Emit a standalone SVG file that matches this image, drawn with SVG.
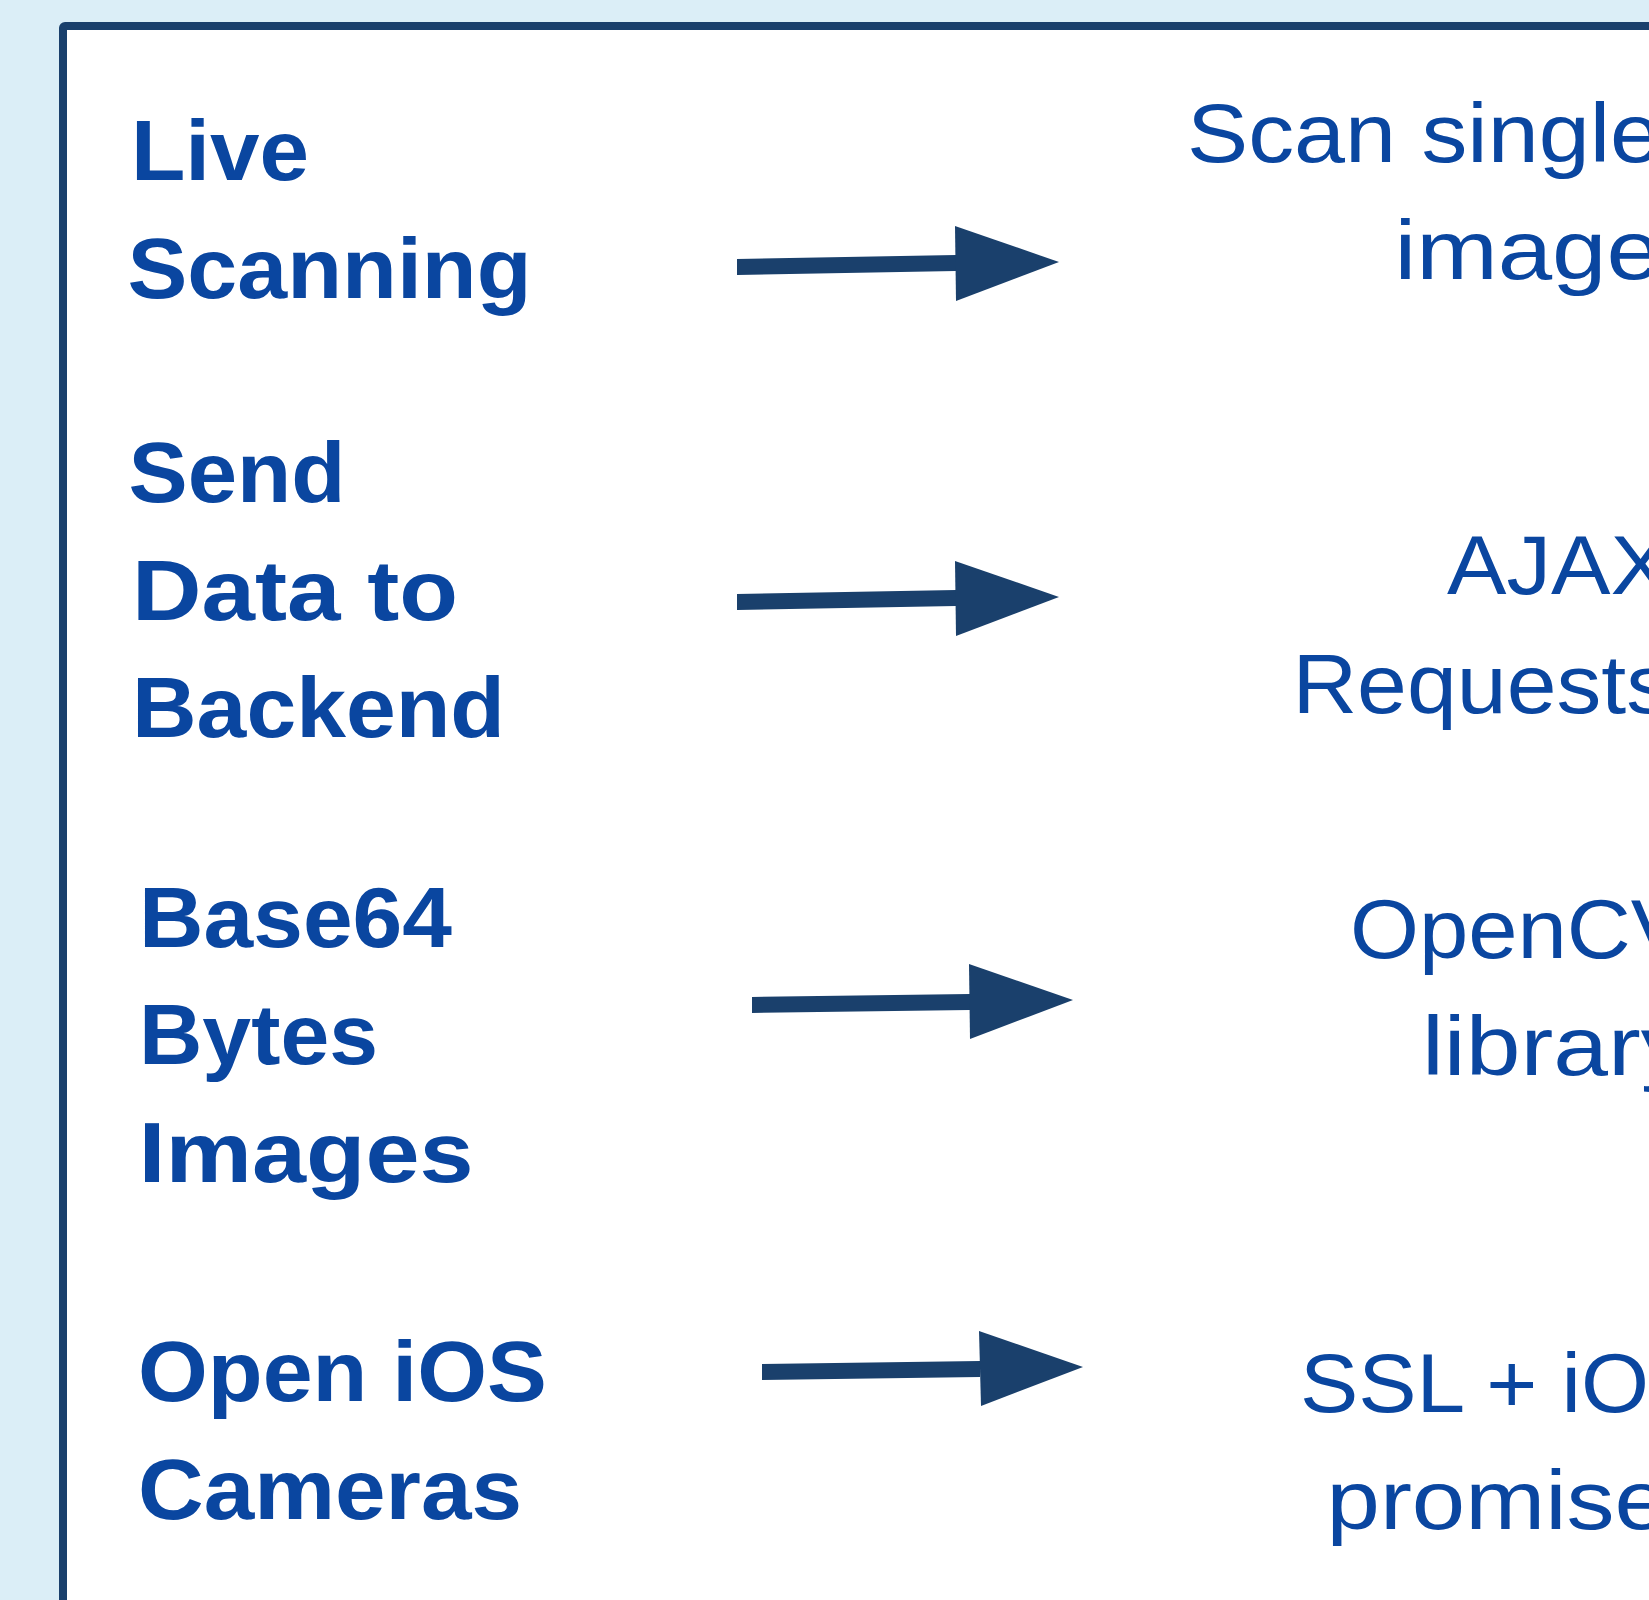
<svg xmlns="http://www.w3.org/2000/svg" width="1649" height="1600" viewBox="0 0 1649 1600">
<style>
.lbl{font-family:"Liberation Sans",Arial,sans-serif;font-weight:bold;font-size:85px;fill:#0A46A0}
.tgt{font-family:"Liberation Sans",Arial,sans-serif;font-weight:normal;font-size:84px;fill:#0A46A0}
.arr{fill:#1A406C}
</style>
<rect x="0" y="0" width="1649" height="1600" fill="#DBEEF7"/>
<rect id="frame" x="63" y="26" width="1700" height="1700" rx="2" fill="#FFFFFF" stroke="#1A406C" stroke-width="8"/>
<g id="node-live-scanning">
<text class="lbl" x="131" y="180" textLength="178" lengthAdjust="spacingAndGlyphs">Live</text>
<text class="lbl" x="127.5" y="298" textLength="404" lengthAdjust="spacingAndGlyphs">Scanning</text>
</g>
<g id="node-send-data">
<text class="lbl" x="128.5" y="502" textLength="217" lengthAdjust="spacingAndGlyphs">Send</text>
<text class="lbl" x="132" y="620" textLength="326" lengthAdjust="spacingAndGlyphs">Data to</text>
<text class="lbl" x="132" y="737" textLength="373" lengthAdjust="spacingAndGlyphs">Backend</text>
</g>
<g id="node-base64">
<text class="lbl" x="139" y="947" textLength="313" lengthAdjust="spacingAndGlyphs">Base64</text>
<text class="lbl" x="139" y="1064" textLength="239" lengthAdjust="spacingAndGlyphs">Bytes</text>
<text class="lbl" x="138.6" y="1182" textLength="335" lengthAdjust="spacingAndGlyphs">Images</text>
</g>
<g id="node-open-ios">
<text class="lbl" x="138" y="1401" textLength="409" lengthAdjust="spacingAndGlyphs">Open iOS</text>
<text class="lbl" x="138" y="1519" textLength="384" lengthAdjust="spacingAndGlyphs">Cameras</text>
</g>
<g id="node-scan-single">
<text class="tgt" x="1187" y="162" textLength="474" lengthAdjust="spacingAndGlyphs">Scan single</text>
<text class="tgt" x="1394.4" y="279" textLength="266.6" lengthAdjust="spacingAndGlyphs">image</text>
</g>
<g id="node-ajax">
<text class="tgt" x="1447" y="594" textLength="223" lengthAdjust="spacingAndGlyphs">AJAX</text>
<text class="tgt" x="1292.4" y="713" textLength="378.6" lengthAdjust="spacingAndGlyphs">Requests</text>
</g>
<g id="node-opencv">
<text class="tgt" x="1350" y="958" textLength="340" lengthAdjust="spacingAndGlyphs">OpenCV</text>
<text class="tgt" x="1422" y="1075" textLength="268" lengthAdjust="spacingAndGlyphs">library</text>
</g>
<g id="node-ssl">
<text class="tgt" x="1300" y="1412" textLength="349" lengthAdjust="spacingAndGlyphs">SSL + iO</text>
<text class="tgt" x="1326.5" y="1529" textLength="341.5" lengthAdjust="spacingAndGlyphs">promise</text>
</g>
<g id="connectors">
<polygon class="arr" points="737,259 956,255 956,271 737,275"/>
<polygon class="arr" points="955,226 1059,262 956,301"/>
<polygon class="arr" points="737,594 956,590 956,606 737,610"/>
<polygon class="arr" points="955,561 1059,597 956,636"/>
<polygon class="arr" points="752,997 970,994 970,1010 752,1013"/>
<polygon class="arr" points="969,964 1073,1000 970,1039"/>
<polygon class="arr" points="762,1364 980,1361 980,1377 762,1380"/>
<polygon class="arr" points="979,1331 1083,1367 981,1406"/>
</g>
</svg>
